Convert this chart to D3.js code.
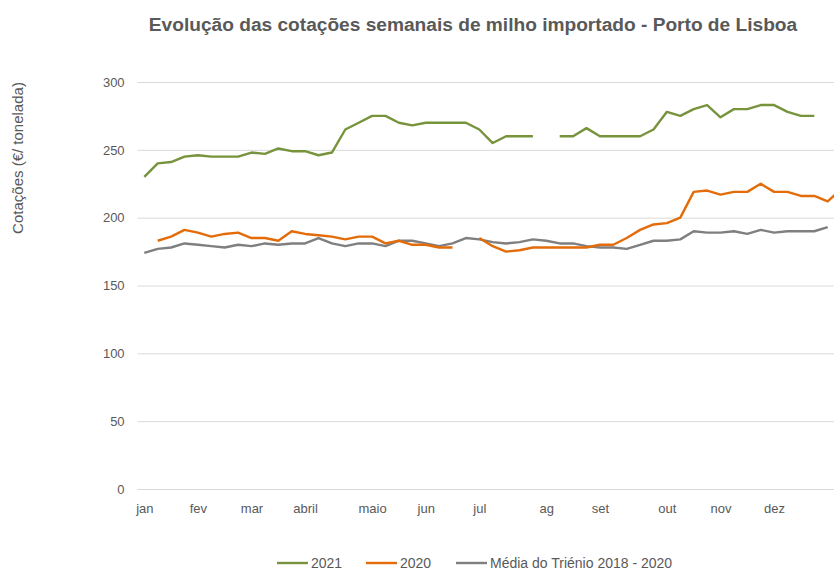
<!DOCTYPE html>
<html lang="pt">
  <head>
    <meta charset="utf-8" />
    <title>Evolução das cotações semanais de milho importado</title>
    <script src="https://cdn.jsdelivr.net/npm/d3@7"></script>
    <style>
      body {
        margin: 0;
        background: #fff;
      }
      text {
        font-family: "Liberation Sans", Arial, sans-serif;
        fill: #595959;
      }
      .grid line {
        stroke: #d9d9d9;
      }
      .axis path {
        display: none;
      }
    </style>
  </head>
  <body>
    <svg id="chart"></svg>
    <script>
      // week index (0..52) of each month label
      const monthWeeks = [0, 4, 8, 12, 17, 21, 25, 30, 34, 39, 43, 47];
      const monthLabels = ["jan", "fev", "mar", "abril", "maio", "jun", "jul", "ag", "set", "out", "nov", "dez"];

      const yTicks = [0, 50, 100, 150, 200, 250, 300];

      // weekly prices, €/t (null = no quotation)
      const values2021 = [
        230, 240, 241, 245, 246, 245, 245, 245, 248, 247, 251, 249, 249, 246, 248, 265,
        270, 275, 275, 270, 268, 270, 270, 270, 270, 265, 255, 260, 260, 260, null, 260,
        260, 266, 260, 260, 260, 260, 265, 278, 275, 280, 283, 274, 280, 280, 283, 283,
        278, 275, 275
      ];
      const values2020 = [
        null, 183, 186, 191, 189, 186, 188, 189, 185, 185, 183, 190, 188, 187, 186, 184,
        186, 186, 181, 183, 180, 180, 178, 178, null, 185, 179, 175, 176, 178, 178, 178,
        178, 178, 180, 180, 185, 191, 195, 196, 200, 219, 220, 217, 219, 219, 225, 219,
        219, 216, 216, 212, 221
      ];
      const valuesMedia = [
        174, 177, 178, 181, 180, 179, 178, 180, 179, 181, 180, 181, 181, 185, 181, 179,
        181, 181, 179, 183, 183, 181, 179, 181, 185, 184, 182, 181, 182, 184, 183, 181,
        181, 179, 178, 178, 177, 180, 183, 183, 184, 190, 189, 189, 190, 188, 191, 189,
        190, 190, 190, 193
      ];

      const series = [
        { name: "2021", values: values2021, color: "#77933c" },
        { name: "2020", values: values2020, color: "#e36c09" },
        { name: "Média do Triénio 2018 - 2020", values: valuesMedia, color: "#7f7f7f" }
      ];

      const W = 834;
      const H = 570;
      const plotLeft = 137.6;
      const step = 13.4;
      const nWeeks = 53;

      const svg = d3.select("#chart").attr("width", W).attr("height", H);

      const x = d3
        .scaleBand()
        .domain(d3.range(nWeeks))
        .range([plotLeft, plotLeft + nWeeks * step]);
      const xc = i => x(i) + x.bandwidth() / 2;

      const y = d3.scaleLinear().domain([0, 300]).range([489, 82]);

      // gridlines + y labels
      const gy = svg
        .append("g")
        .attr("class", "grid axis")
        .attr("transform", `translate(${plotLeft},0)`)
        .call(
          d3
            .axisLeft(y)
            .tickValues(yTicks)
            .tickSize(-(W - plotLeft))
            .tickPadding(13)
        );
      gy.selectAll("text").attr("font-size", 13).style("fill", "#595959");

      // month labels
      const gx = svg
        .append("g")
        .attr("class", "axis")
        .attr("transform", "translate(0,489)")
        .call(
          d3
            .axisBottom(d3.scaleLinear().domain([0, 1]).range([xc(0), xc(1)]))
            .tickValues(monthWeeks)
            .tickFormat((d, i) => monthLabels[i])
            .tickSize(0)
            .tickPadding(15)
        );
      gx.selectAll("text").attr("font-size", 13).style("fill", "#595959");

      // lines
      const line = d3
        .line()
        .defined(d => d != null)
        .x((d, i) => xc(i))
        .y(d => y(d));

      svg
        .append("g")
        .selectAll("path")
        .data(series.slice().reverse())
        .join("path")
        .attr("d", d => line(d.values))
        .attr("fill", "none")
        .attr("stroke", d => d.color)
        .attr("stroke-width", 2.4)
        .attr("stroke-linejoin", "round");

      // title
      const title = svg
        .append("text")
        .attr("x", 473)
        .attr("y", 31)
        .attr("text-anchor", "middle")
        .attr("font-weight", "bold")
        .attr("font-size", 17)
        .text("Evolução das cotações semanais de milho importado - Porto de Lisboa");
      const tw = title.node().getComputedTextLength();
      title.attr("font-size", (17 * 649) / tw);

      // y axis title
      const yTitle = svg
        .append("text")
        .attr("transform", "translate(23,158) rotate(-90)")
        .attr("text-anchor", "middle")
        .attr("font-size", 13)
        .text("Cotações (€/ tonelada)");
      const yw = yTitle.node().getComputedTextLength();
      yTitle.attr("font-size", Math.min(15, (13 * 152) / yw));

      // legend
      const legendX = [277, 366, 456];
      const lg = svg
        .append("g")
        .selectAll("g")
        .data(series)
        .join("g")
        .attr("transform", (d, i) => `translate(${legendX[i]},563)`);
      lg.append("line")
        .attr("x1", 0)
        .attr("x2", 31)
        .attr("stroke", d => d.color)
        .attr("stroke-width", 2.4);
      lg.append("text")
        .attr("x", 34)
        .attr("dy", "0.35em")
        .attr("font-size", 14)
        .text(d => d.name);
    </script>
  </body>
</html>
